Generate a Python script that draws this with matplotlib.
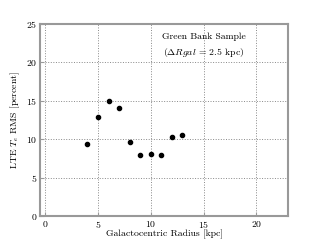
import matplotlib
matplotlib.use("Agg")
import matplotlib.pyplot as plt

plt.rcParams['font.family'] = 'serif'
plt.rcParams['font.serif'] = ['cmr10', 'DejaVu Serif']
plt.rcParams['mathtext.fontset'] = 'cm'
plt.rcParams['axes.formatter.use_mathtext'] = True

radius = [4, 5, 6, 7, 8, 9, 10, 11, 12, 13]
rms = [9.4, 12.85, 15.0, 14.0, 9.7, 8.0, 8.05, 7.9, 10.3, 10.6]

fig = plt.figure(figsize=(3.2, 2.4), dpi=100)
ax = fig.add_axes([0.125, 0.1, 0.775, 0.8])
ax.plot(radius, rms, 'o', color='black', markersize=3)
ax.set_xlim(-0.5, 23)
ax.set_ylim(0, 25)
ax.set_xticks([0, 5, 10, 15, 20])
ax.set_yticks([0, 5, 10, 15, 20, 25])
ax.grid(True, linestyle=':', color='#888888', linewidth=0.7)
for s in ax.spines.values():
    s.set_color('#999999')
    s.set_linewidth(1.5)
ax.tick_params(labelsize=7, color='#999999', direction='in', length=3, pad=2)
ax.set_xlabel('Galactocentric Radius [kpc]', fontsize=7, labelpad=0)
ax.set_ylabel('LTE $T_e$ RMS [percent]', fontsize=7, labelpad=3)
ax.text(15, 23.3, 'Green Bank Sample', fontsize=7, ha='center', va='center')
ax.text(15, 21.3, r'($\Delta Rgal$ = 2.5 kpc)', fontsize=7, ha='center', va='center')

fig.savefig('out.png', dpi=100)
